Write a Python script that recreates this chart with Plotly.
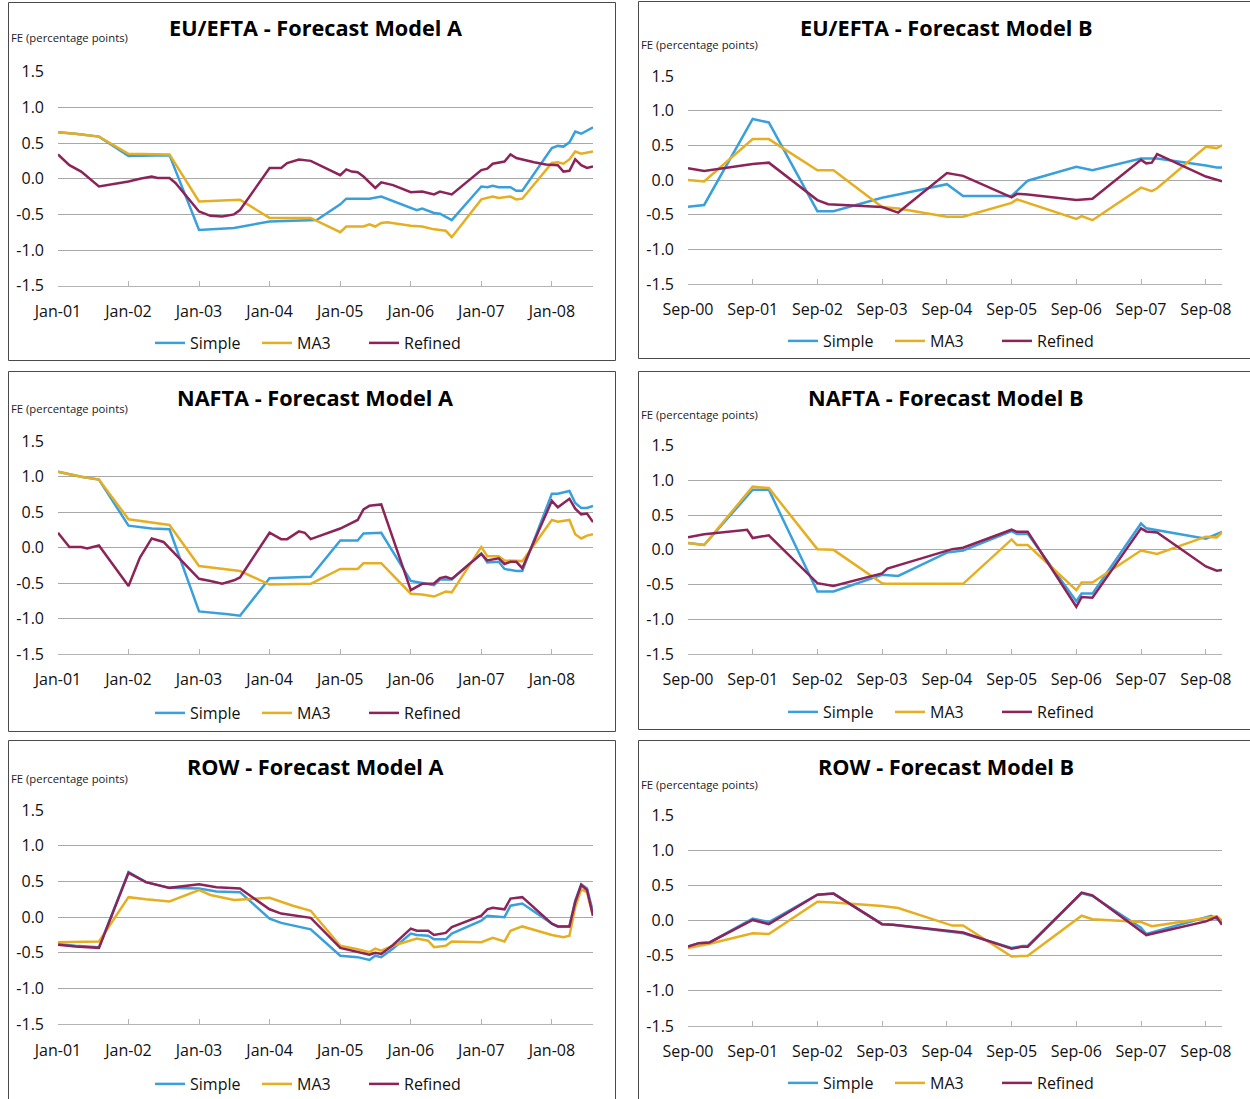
import pandas as pd
import plotly.graph_objects as go

# ---------------------------------------------------------------------------
# Tick labels
# ---------------------------------------------------------------------------
A_TICK_LABELS = ["Jan-01", "Jan-02", "Jan-03", "Jan-04", "Jan-05", "Jan-06", "Jan-07", "Jan-08"]
B_TICK_LABELS = ["Sep-00", "Sep-01", "Sep-02", "Sep-03", "Sep-04", "Sep-05", "Sep-06", "Sep-07", "Sep-08"]
Y_TICK_VALUES = [-1.5, -1.0, -0.5, 0.0, 0.5, 1.0, 1.5]
Y_TICK_LABELS = ["-1.5", "-1.0", "-0.5", "0.0", "0.5", "1.0", "1.5"]
A_START, A_LAST = "2001-01-01", 91   # Jan-01 .. Aug-08 (months)
B_START, B_LAST = "2000-09-01", 99   # Sep-00 .. Dec-08 (months)

SERIES_NAMES = ["Simple", "MA3", "Refined"]

# ---------------------------------------------------------------------------
# Forecast errors (percentage points); x = months after the start month
# ---------------------------------------------------------------------------
# EU/EFTA - Model A
eu_a_simple_m = [0, 3, 7, 12, 19, 24, 30, 36, 44, 48, 49, 53, 55, 60, 61, 62, 64, 65, 67, 72, 73, 74, 75, 77, 78, 79, 84, 85, 86, 87, 88, 89, 91]
eu_a_simple = [0.65, 0.63, 0.59, 0.32, 0.33, -0.72, -0.69, -0.60, -0.58, -0.36, -0.28, -0.28, -0.25, -0.41, -0.44, -0.42, -0.48, -0.49, -0.58, -0.11, -0.12, -0.10, -0.12, -0.12, -0.17, -0.17, 0.43, 0.46, 0.45, 0.51, 0.66, 0.63, 0.72]
eu_a_ma3_m = [0, 3, 7, 12, 19, 24, 31, 36, 43, 48, 49, 52, 53, 54, 55, 56, 60, 62, 64, 66, 67, 72, 74, 75, 77, 78, 79, 84, 85, 86, 87, 88, 89, 91]
eu_a_ma3 = [0.65, 0.63, 0.59, 0.35, 0.34, -0.32, -0.295, -0.55, -0.55, -0.75, -0.67, -0.67, -0.64, -0.67, -0.62, -0.61, -0.66, -0.67, -0.71, -0.73, -0.82, -0.29, -0.25, -0.27, -0.25, -0.29, -0.28, 0.22, 0.23, 0.21, 0.27, 0.38, 0.35, 0.38]
eu_a_ref_m = [0, 2, 4, 7, 12, 14, 16, 17, 19, 20, 24, 26, 28, 30, 31, 36, 38, 39, 41, 43, 48, 49, 50, 51, 52, 54, 55, 57, 60, 62, 63, 64, 65, 66, 67, 72, 73, 74, 76, 77, 78, 81, 83, 85, 86, 87, 88, 89, 90, 91]
eu_a_ref = [0.34, 0.19, 0.10, -0.11, -0.04, 0.0, 0.03, 0.01, 0.01, -0.06, -0.46, -0.52, -0.53, -0.50, -0.44, 0.15, 0.15, 0.22, 0.27, 0.25, 0.05, 0.13, 0.10, 0.09, 0.03, -0.13, -0.05, -0.09, -0.19, -0.18, -0.20, -0.22, -0.18, -0.20, -0.22, 0.12, 0.14, 0.21, 0.24, 0.34, 0.29, 0.23, 0.20, 0.19, 0.10, 0.11, 0.27, 0.19, 0.15, 0.17]

# EU/EFTA - Model B
eu_b_simple_m = [0, 3, 12, 15, 24, 27, 36, 39, 48, 51, 60, 63, 72, 75, 84, 87, 96, 98, 99]
eu_b_simple = [-0.385, -0.36, 0.88, 0.83, -0.45, -0.45, -0.255, -0.21, -0.06, -0.23, -0.23, -0.01, 0.19, 0.14, 0.31, 0.31, 0.21, 0.18, 0.18]
eu_b_ma3_m = [0, 3, 12, 15, 24, 27, 36, 39, 48, 51, 60, 61, 72, 73, 75, 84, 86, 87, 96, 98, 99]
eu_b_ma3 = [0.0, -0.02, 0.59, 0.59, 0.14, 0.14, -0.39, -0.41, -0.53, -0.53, -0.33, -0.28, -0.56, -0.52, -0.58, -0.11, -0.16, -0.12, 0.48, 0.46, 0.50]
eu_b_ref_m = [0, 3, 12, 15, 24, 26, 36, 39, 48, 51, 60, 61, 63, 72, 75, 84, 85, 86, 87, 96, 99]
eu_b_ref = [0.17, 0.13, 0.23, 0.25, -0.29, -0.35, -0.39, -0.47, 0.10, 0.06, -0.25, -0.20, -0.21, -0.29, -0.27, 0.29, 0.24, 0.25, 0.375, 0.05, -0.02]

# NAFTA - Model A
na_a_simple_m = [0, 4, 7, 12, 16, 19, 24, 27, 29, 31, 36, 43, 48, 51, 52, 55, 60, 62, 64, 65, 67, 72, 73, 75, 76, 78, 79, 84, 85, 87, 88, 89, 90, 91]
na_a_simple = [1.07, 1.0, 0.96, 0.31, 0.27, 0.26, -0.90, -0.92, -0.94, -0.96, -0.43, -0.41, 0.10, 0.10, 0.20, 0.21, -0.47, -0.50, -0.53, -0.45, -0.45, -0.08, -0.21, -0.20, -0.30, -0.33, -0.33, 0.76, 0.76, 0.80, 0.63, 0.56, 0.56, 0.59]
na_a_ma3_m = [0, 4, 7, 12, 19, 24, 31, 36, 43, 48, 51, 52, 55, 60, 62, 64, 66, 67, 72, 73, 75, 76, 79, 84, 85, 87, 88, 89, 90, 91]
na_a_ma3 = [1.07, 1.0, 0.96, 0.40, 0.32, -0.26, -0.33, -0.52, -0.51, -0.30, -0.30, -0.22, -0.22, -0.65, -0.66, -0.69, -0.62, -0.63, 0.01, -0.12, -0.12, -0.18, -0.19, 0.39, 0.365, 0.39, 0.19, 0.13, 0.17, 0.19]
na_a_ref_m = [0, 2, 4, 5, 7, 12, 14, 16, 18, 24, 26, 28, 30, 31, 36, 38, 39, 41, 42, 43, 48, 51, 52, 53, 55, 60, 62, 64, 65, 66, 67, 72, 73, 75, 76, 77, 78, 79, 84, 85, 87, 88, 89, 90, 91]
na_a_ref = [0.21, 0.01, 0.01, -0.01, 0.03, -0.54, -0.14, 0.13, 0.08, -0.44, -0.47, -0.51, -0.46, -0.42, 0.21, 0.12, 0.12, 0.23, 0.21, 0.12, 0.27, 0.39, 0.54, 0.59, 0.61, -0.60, -0.51, -0.505, -0.43, -0.41, -0.44, -0.09, -0.18, -0.15, -0.23, -0.20, -0.20, -0.29, 0.66, 0.57, 0.69, 0.55, 0.47, 0.48, 0.36]

# NAFTA - Model B
na_b_simple_m = [0, 3, 12, 15, 24, 27, 36, 39, 48, 51, 60, 61, 63, 72, 73, 75, 84, 85, 96, 99]
na_b_simple = [0.10, 0.07, 0.865, 0.865, -0.60, -0.60, -0.36, -0.375, -0.04, -0.01, 0.27, 0.23, 0.23, -0.74, -0.63, -0.63, 0.38, 0.31, 0.16, 0.26]
na_b_ma3_m = [0, 3, 12, 15, 24, 27, 36, 37, 51, 60, 61, 63, 72, 73, 75, 84, 87, 96, 98, 99]
na_b_ma3 = [0.10, 0.07, 0.91, 0.89, 0.01, 0.0, -0.48, -0.49, -0.49, 0.15, 0.07, 0.07, -0.58, -0.47, -0.47, -0.01, -0.06, 0.19, 0.18, 0.25]
na_b_ref_m = [0, 3, 11, 12, 15, 24, 27, 36, 37, 49, 51, 60, 61, 63, 72, 73, 75, 84, 85, 87, 96, 98, 99]
na_b_ref = [0.18, 0.225, 0.29, 0.17, 0.21, -0.48, -0.52, -0.34, -0.27, 0.01, 0.03, 0.29, 0.26, 0.26, -0.82, -0.68, -0.69, 0.31, 0.265, 0.25, -0.24, -0.30, -0.29]

# ROW - Model A
row_a_simple_m = [0, 3, 7, 12, 15, 19, 24, 27, 31, 36, 38, 41, 43, 48, 50, 51, 53, 54, 55, 57, 60, 61, 63, 64, 66, 67, 72, 73, 76, 77, 79, 84, 85, 87, 88, 89, 90, 91]
row_a_simple = [-0.375, -0.40, -0.42, 0.63, 0.49, 0.41, 0.40, 0.36, 0.35, -0.02, -0.08, -0.14, -0.17, -0.54, -0.55, -0.56, -0.60, -0.54, -0.56, -0.44, -0.23, -0.25, -0.26, -0.31, -0.31, -0.23, -0.05, 0.02, 0.0, 0.16, 0.19, -0.09, -0.13, -0.13, 0.23, 0.46, 0.40, 0.07]
row_a_ma3_m = [0, 7, 12, 15, 19, 24, 26, 30, 32, 36, 40, 43, 48, 50, 51, 53, 54, 55, 57, 61, 63, 64, 66, 67, 72, 74, 76, 77, 79, 84, 86, 87, 88, 89, 90, 91]
row_a_ma3 = [-0.35, -0.34, 0.28, 0.25, 0.22, 0.38, 0.31, 0.24, 0.25, 0.27, 0.16, 0.09, -0.40, -0.43, -0.45, -0.49, -0.44, -0.47, -0.40, -0.30, -0.33, -0.42, -0.40, -0.34, -0.35, -0.29, -0.34, -0.19, -0.13, -0.25, -0.28, -0.26, 0.14, 0.39, 0.35, 0.02]
row_a_ref_m = [0, 3, 7, 12, 15, 19, 24, 27, 31, 36, 38, 41, 43, 48, 50, 51, 53, 54, 55, 57, 60, 61, 63, 64, 66, 67, 72, 73, 74, 76, 77, 79, 84, 85, 87, 88, 89, 90, 91]
row_a_ref = [-0.385, -0.41, -0.43, 0.62, 0.49, 0.41, 0.46, 0.42, 0.40, 0.11, 0.05, 0.02, -0.01, -0.43, -0.47, -0.49, -0.525, -0.50, -0.515, -0.39, -0.16, -0.19, -0.19, -0.25, -0.22, -0.14, 0.02, 0.11, 0.13, 0.11, 0.26, 0.28, -0.09, -0.13, -0.13, 0.21, 0.45, 0.38, 0.02]

# ROW - Model B
row_b_simple_m = [0, 2, 4, 12, 15, 24, 27, 36, 38, 48, 51, 60, 62, 63, 73, 75, 84, 85, 97, 99]
row_b_simple = [-0.37, -0.32, -0.31, 0.03, -0.02, 0.37, 0.385, -0.05, -0.06, -0.16, -0.18, -0.39, -0.36, -0.36, 0.39, 0.35, -0.10, -0.19, 0.07, -0.02]
row_b_ma3_m = [0, 4, 12, 15, 24, 27, 36, 39, 49, 51, 60, 63, 73, 75, 84, 86, 87, 96, 98, 99]
row_b_ma3 = [-0.39, -0.33, -0.18, -0.19, 0.27, 0.26, 0.21, 0.18, -0.07, -0.07, -0.51, -0.50, 0.07, 0.02, -0.02, -0.08, -0.07, 0.04, 0.06, 0.0]
row_b_ref_m = [0, 2, 4, 12, 15, 24, 27, 36, 38, 48, 51, 60, 62, 63, 73, 75, 85, 96, 98, 99]
row_b_ref = [-0.37, -0.32, -0.31, 0.01, -0.05, 0.37, 0.385, -0.05, -0.06, -0.14, -0.17, -0.40, -0.37, -0.37, 0.40, 0.36, -0.205, -0.01, 0.05, -0.06]

# ---------------------------------------------------------------------------
# Styling
# ---------------------------------------------------------------------------
W, H = 1250, 1099
FONT = "Open Sans"
COLORS = {"Simple": "#39A0DC", "MA3": "#E6AF22", "Refined": "#8C2459"}
GRID = "#A8A8A8"
AXIS = "#B4B4B4"
BORDER = "#4A4A4A"
TEXT = "#111111"


def to_dates(start, offsets):
    base = pd.Timestamp(start)
    return [(base + pd.DateOffset(months=int(m))).strftime("%Y-%m-%d") for m in offsets]


def px_x(x):
    return x / W


def px_y(y):
    return 1 - y / H


LEFT = dict(box_x=(8.5, 615.5), plot_x=(58, 593), title_x=315, fe_x=9, leg_x=150)
RIGHT = dict(box_x=(638.5, 1262), plot_x=(688, 1222), title_x=946, fe_x=639, leg_x=783)

panels = [
    dict(col=LEFT, kind="A", title="EU/EFTA - Forecast Model A",
         data=[(eu_a_simple_m, eu_a_simple), (eu_a_ma3_m, eu_a_ma3), (eu_a_ref_m, eu_a_ref)],
         box_y=(2.5, 360.5), plot_y=(71.7, 285.7), title_y=28, fe_y=38, leg_y=343),
    dict(col=RIGHT, kind="B", title="EU/EFTA - Forecast Model B",
         data=[(eu_b_simple_m, eu_b_simple), (eu_b_ma3_m, eu_b_ma3), (eu_b_ref_m, eu_b_ref)],
         box_y=(1.5, 358.5), plot_y=(76, 284), title_y=27, fe_y=44, leg_y=341),
    dict(col=LEFT, kind="A", title="NAFTA - Forecast Model A",
         data=[(na_a_simple_m, na_a_simple), (na_a_ma3_m, na_a_ma3), (na_a_ref_m, na_a_ref)],
         box_y=(371.5, 731.5), plot_y=(441.3, 654), title_y=397, fe_y=408.7, leg_y=713),
    dict(col=RIGHT, kind="B", title="NAFTA - Forecast Model B",
         data=[(na_b_simple_m, na_b_simple), (na_b_ma3_m, na_b_ma3), (na_b_ref_m, na_b_ref)],
         box_y=(371.5, 729.5), plot_y=(445.7, 654), title_y=397, fe_y=414.7, leg_y=712),
    dict(col=LEFT, kind="A", title="ROW - Forecast Model A",
         data=[(row_a_simple_m, row_a_simple), (row_a_ma3_m, row_a_ma3), (row_a_ref_m, row_a_ref)],
         box_y=(740.5, 1110), plot_y=(810, 1024.3), title_y=766, fe_y=778, leg_y=1084),
    dict(col=RIGHT, kind="B", title="ROW - Forecast Model B",
         data=[(row_b_simple_m, row_b_simple), (row_b_ma3_m, row_b_ma3), (row_b_ref_m, row_b_ref)],
         box_y=(740.5, 1110), plot_y=(815.3, 1026), title_y=766, fe_y=784, leg_y=1083),
]

fig = go.Figure()
layout = dict(
    width=W, height=H,
    margin=dict(l=0, r=0, t=0, b=0, pad=0, autoexpand=False),
    paper_bgcolor="white", plot_bgcolor="white",
    font=dict(family=FONT, color=TEXT),
    hovermode=False,
    shapes=[], annotations=[],
)

Y_TOP = 1.503  # a hair above 1.5 so the top gridline is kept

for i, p in enumerate(panels):
    sfx = "" if i == 0 else str(i + 1)
    col = p["col"]
    if p["kind"] == "A":
        start, last, labels = A_START, A_LAST, A_TICK_LABELS
    else:
        start, last, labels = B_START, B_LAST, B_TICK_LABELS
    tickvals = to_dates(start, [12 * k for k in range(len(labels))])
    x_range = to_dates(start, [0, last])
    legend_id = "legend" + sfx

    for name, (months, values) in zip(SERIES_NAMES, p["data"]):
        fig.add_trace(go.Scatter(
            x=to_dates(start, months), y=values, name=name, mode="lines",
            line=dict(color=COLORS[name], width=2.5),
            xaxis="x" + sfx, yaxis="y" + sfx, legend=legend_id, showlegend=True,
        ))

    y0, y1 = p["plot_y"]
    y1_top = y0 - (Y_TOP - 1.5) * (y1 - y0) / 3.0
    layout["xaxis" + sfx] = dict(
        domain=[px_x(col["plot_x"][0]), px_x(col["plot_x"][1])],
        anchor="y" + sfx, type="date", range=x_range,
        tickmode="array", tickvals=tickvals, ticktext=labels,
        showgrid=False, zeroline=False, automargin=False,
        showline=True, linecolor=AXIS, linewidth=1,
        ticks="inside", ticklen=5, tickcolor=AXIS, tickwidth=1,
        ticklabelstandoff=11,
        tickfont=dict(family=FONT, size=16, color=TEXT),
        fixedrange=True,
    )
    layout["yaxis" + sfx] = dict(
        domain=[px_y(y1), px_y(y1_top)],
        anchor="x" + sfx, range=[-1.5, Y_TOP],
        tickmode="array", tickvals=Y_TICK_VALUES, ticktext=Y_TICK_LABELS,
        showgrid=True, gridcolor=GRID, gridwidth=1,
        zeroline=False, showline=False, ticks="", automargin=False,
        ticklabelstandoff=13,
        tickfont=dict(family=FONT, size=16, color=TEXT),
        fixedrange=True,
    )
    layout[legend_id] = dict(
        orientation="h", x=px_x(col["leg_x"]), xanchor="left",
        y=px_y(p["leg_y"]), yanchor="middle",
        font=dict(family=FONT, size=16, color=TEXT),
        bgcolor="rgba(0,0,0,0)", traceorder="normal",
        itemwidth=30, entrywidth=62, entrywidthmode="pixels",
    )

    # frame around each chart
    layout["shapes"].append(dict(
        type="rect", xref="paper", yref="paper",
        x0=px_x(col["box_x"][0]), x1=px_x(col["box_x"][1]),
        y0=px_y(p["box_y"][1]), y1=px_y(p["box_y"][0]),
        line=dict(color=BORDER, width=1), fillcolor="rgba(0,0,0,0)", layer="below",
    ))
    # chart title
    layout["annotations"].append(dict(
        text="<b>" + p["title"] + "</b>", xref="paper", yref="paper",
        x=px_x(col["title_x"]), y=px_y(p["title_y"]),
        xanchor="center", yanchor="middle", showarrow=False,
        font=dict(family=FONT, size=21.7, color="#000000"),
    ))
    # unit label
    layout["annotations"].append(dict(
        text="FE (percentage points)", xref="paper", yref="paper",
        x=px_x(col["fe_x"]), y=px_y(p["fe_y"]),
        xanchor="left", yanchor="middle", showarrow=False,
        font=dict(family=FONT, size=11.3, color="#222222"),
    ))

fig.update_layout(**layout)
fig.write_html("out.html")
